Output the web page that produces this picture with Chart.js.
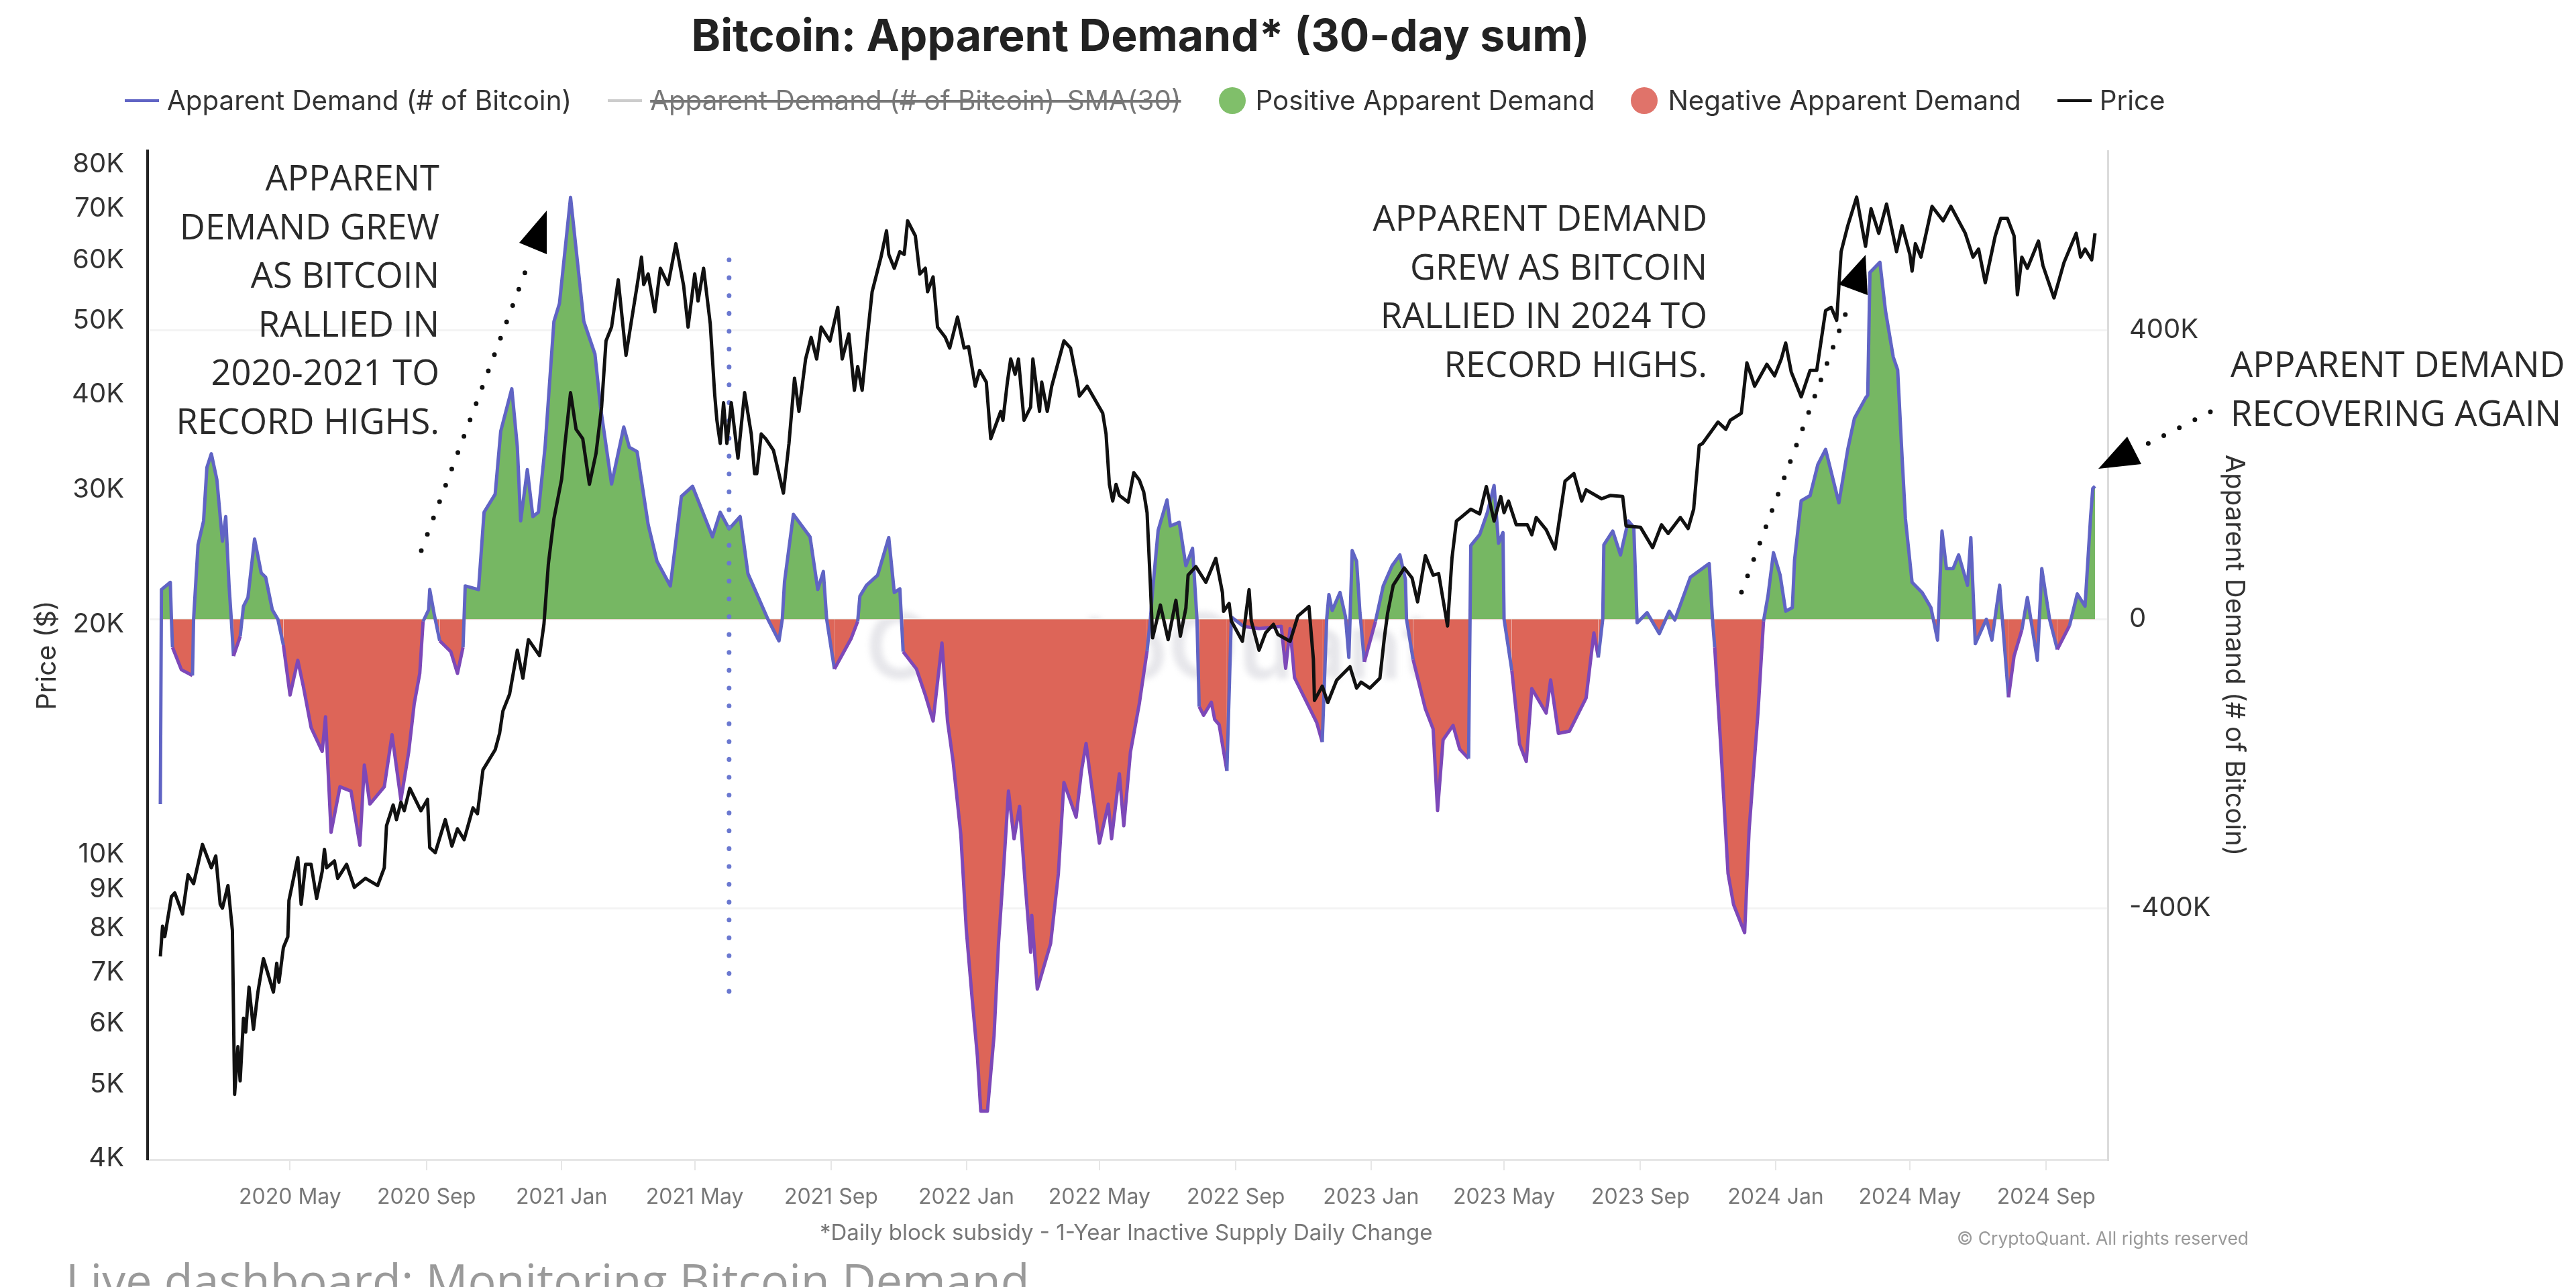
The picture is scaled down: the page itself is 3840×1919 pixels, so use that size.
<!DOCTYPE html>
<html>
<head>
<meta charset="utf-8">
<script src="https://cdn.jsdelivr.net/npm/chart.js@4"></script>
<style>
  html, body { margin: 0; background: #fff; overflow: hidden; }
  #stage { position: relative; width: 3840px; height: 1919px; overflow: hidden; }
  #stage canvas, #stage svg { position: absolute; left: 0; top: 0; }
  .note { position: absolute; font-family: "Open Sans"; font-size: 52.5px; line-height: 72.5px; color: #2a2a2a; white-space: nowrap; }
  .foot { position: absolute; white-space: nowrap; font-family: Inter; }
  #legend { position: absolute; top: 127px; left: 186px; display: flex; align-items: center; font-family: Inter; font-size: 40.3px; color: #333; line-height: 46px; white-space: nowrap; }
  #legend i { display: inline-block; margin-right: 12px; }
  #legend span { margin-right: 54px; display: flex; align-items: center; }
  #legend .ln { width: 51px; height: 4px; }
  #legend .dot { width: 40px; height: 40px; border-radius: 50%; margin-right: 15px; }
  #mark { position: absolute; left: 1290px; top: 880px; font-family: Inter; font-weight: 600; font-size: 136px; color: #c9c9d2; opacity: .45; filter: blur(4px); }
</style>
</head>
<body>
<div id="stage">
  <div id="mark">CryptoQuant</div>
  <canvas id="chart" width="3840" height="1919"></canvas>
  <div id="legend">
    <span><i class="ln" style="background:#6064c4"></i>Apparent Demand (# of Bitcoin)</span>
    <span style="color:#777;margin-right:56px"><i class="ln" style="background:#ccc"></i><s>Apparent Demand (# of Bitcoin)-SMA(30)</s></span>
    <span><i class="dot" style="background:#80bf6a"></i>Positive Apparent Demand</span>
    <span><i class="dot" style="background:#e0736a"></i>Negative Apparent Demand</span>
    <span><i class="ln" style="background:#111"></i>Price</span>
  </div>
  <div class="note" style="right:3185px;top:228px;text-align:right">APPARENT<br>DEMAND GREW<br>AS BITCOIN<br>RALLIED IN<br>2020-2021 TO<br>RECORD HIGHS.</div>
  <div class="note" style="right:1295px;top:288px;text-align:right">APPARENT DEMAND<br>GREW AS BITCOIN<br>RALLIED IN 2024 TO<br>RECORD HIGHS.</div>
  <div class="note" style="left:3325px;top:506px">APPARENT DEMAND<br>RECOVERING AGAIN</div>
  <svg width="3840" height="1919">
    <g stroke="#111" stroke-width="7" stroke-linecap="round" stroke-dasharray="0 26" fill="none">
      <line x1="628" y1="821" x2="785" y2="400"/>
      <line x1="2596" y1="883" x2="2753" y2="463"/>
      <line x1="3295" y1="614" x2="3199" y2="663"/>
    </g>
    <polygon points="815,314 774,362 815,379" fill="#000"/>
    <polygon points="2781,380 2741,424 2784,440" fill="#000"/>
    <polygon points="3171,651 3128,699 3192,692" fill="#000"/>
  </svg>
  <div class="foot" style="left:1222px;top:1817px;font-size:33px;color:#777">*Daily block subsidy - 1-Year Inactive Supply Daily Change</div>
  <div class="foot" style="left:2917px;top:1830px;font-size:26.5px;color:#999">© CryptoQuant. All rights reserved</div>
  <div class="foot" style="left:98px;top:1868px;font-family:'Open Sans';font-size:70px;line-height:80px;color:#9a9a9a">Live dashboard: Monitoring Bitcoin Demand</div>
</div>

<script>
// dias contados desde 2020-01-01, demanda en miles de BTC, precio en miles de USD
const tickDays = [121, 244, 366, 486, 609, 731, 851, 974, 1096, 1216, 1339, 1461, 1582, 1705];
const tickLabels = ['2020 May', '2020 Sep', '2021 Jan', '2021 May', '2021 Sep', '2022 Jan', '2022 May', '2022 Sep', '2023 Jan', '2023 May', '2023 Sep', '2024 Jan', '2024 May', '2024 Sep'];
const priceTicks = [4, 5, 6, 7, 8, 9, 10, 20, 30, 40, 50, 60, 70, 80];
const demandTicks = [-400, 0, 400];

const demandDays = [
  4, 5, 13, 14, 15, 23, 33, 34, 38, 43, 46, 50, 55, 60, 63, 66, 68, 70, 76, 79,
  83, 89, 95, 99, 105, 110, 115, 121, 128, 133, 140, 150, 153, 158, 166, 176, 184, 188, 193, 206,
  213, 221, 228, 233, 238, 241, 246, 247, 251, 256, 266, 272, 277, 279, 291, 296, 306, 311, 321, 326,
  329, 335, 340, 345, 351, 359, 364, 374, 386, 396, 401, 411, 422, 427, 434, 444, 452, 464, 474, 484,
  502, 509, 517, 527, 534, 552, 562, 565, 567, 575, 590, 597, 602, 605, 612, 627, 633, 635, 641, 651,
  661, 666, 671, 674, 686, 694, 701, 709, 714, 719, 726, 731, 736, 741, 744, 750, 756, 760, 764, 769,
  774, 779, 784, 789, 790, 795, 807, 814, 819, 830, 835, 839, 842, 851, 859, 862, 869, 873, 879, 887,
  891, 894, 897, 899, 904, 912, 915, 923, 929, 935, 939, 941, 945, 952, 955, 959, 966, 970, 981, 995,
  1015, 1019, 1023, 1027, 1037, 1047, 1052, 1056, 1058, 1061, 1068, 1073, 1076, 1079, 1083, 1086, 1090, 1100, 1107, 1115,
  1122, 1127, 1128, 1134, 1145, 1152, 1156, 1161, 1170, 1176, 1184, 1186, 1194, 1201, 1207, 1211, 1215, 1216, 1223, 1230,
  1236, 1241, 1254, 1258, 1265, 1275, 1290, 1297, 1301, 1305, 1306, 1314, 1321, 1328, 1333, 1336, 1345, 1356, 1365, 1370,
  1384, 1401, 1404, 1406, 1412, 1418, 1423, 1433, 1437, 1445, 1450, 1454, 1459, 1465, 1470, 1476, 1478, 1484, 1492, 1499,
  1506, 1518, 1526, 1532, 1542, 1544, 1546, 1555, 1560, 1567, 1571, 1575, 1578, 1584, 1593, 1601, 1607, 1611, 1615, 1621,
  1626, 1634, 1637, 1641, 1651, 1656, 1663, 1671, 1676, 1683, 1688, 1697, 1701, 1708, 1715, 1726, 1733, 1740, 1745, 1747,
  1749
];
const demandValues = [
  -256, 41, 51, 0, -39, -70, -78, 0, 103, 136, 210, 229, 193, 108, 142, 46, 0, -51, -24, 18,
  30, 111, 64, 58, 13, 0, -36, -105, -57, -93, -150, -183, -135, -295, -232, -238, -313, -202, -256, -232,
  -160, -250, -184, -117, -75, -3, 13, 41, 7, -30, -45, -75, -39, 46, 41, 148, 173, 260, 319, 238,
  136, 207, 142, 148, 238, 412, 437, 584, 412, 367, 294, 187, 266, 238, 232, 131, 80, 46, 170, 184,
  114, 148, 125, 142, 63, 0, -30, 0, 52, 145, 114, 41, 66, 0, -69, -27, -3, 32, 47, 61,
  113, 37, 42, -45, -69, -105, -141, -33, -141, -196, -298, -431, -521, -606, -681, -681, -576, -449, -359, -238,
  -304, -259, -365, -461, -410, -512, -449, -352, -226, -274, -208, -172, -208, -310, -256, -304, -214, -286, -184, -117,
  -75, -44, 0, 40, 123, 165, 129, 134, 74, 98, 0, -121, -133, -115, -139, -146, -210, 3, -10, -13,
  -10, -68, -13, -81, -112, -143, -170, 0, 34, 12, 37, 3, -53, 95, 80, 9, -59, -3, 46, 74,
  89, 55, 0, -56, -124, -152, -265, -167, -147, -180, -193, 102, 117, 148, 185, 105, 120, 0, -71, -173,
  -197, -96, -130, -84, -158, -155, -109, -19, -53, 0, 103, 122, 89, 136, 127, -5, 9, -20, 11, -1,
  58, 77, 0, -39, -190, -352, -395, -434, -292, -130, -3, 32, 92, 61, 11, 16, 82, 164, 171, 214,
  235, 161, 235, 278, 306, 310, 480, 494, 427, 363, 345, 224, 139, 51, 37, 16, -29, 122, 70, 70,
  89, 47, 113, -34, 0, -29, 47, -108, -51, -15, 30, -57, 70, 0, -42, -9, 35, 18, 141, 181,
  184
];

const priceDays = [
  4, 6, 8, 14, 17, 24, 29, 34, 42, 50, 54, 58, 60, 65, 69, 71, 74, 76, 79, 81,
  84, 88, 92, 97, 106, 109, 111, 115, 119, 120, 128, 131, 135, 140, 145, 150, 152, 154, 161, 164,
  172, 179, 189, 200, 206, 208, 214, 217, 221, 224, 229, 239, 245, 247, 252, 261, 267, 272, 278, 286,
  290, 295, 306, 310, 313, 319, 326, 331, 336, 346, 350, 354, 359, 366, 369, 374, 379, 385, 391, 397,
  402, 406, 411, 417, 424, 429, 434, 438, 440, 444, 450, 455, 462, 469, 476, 480, 486, 489, 494, 500,
  504, 506, 509, 512, 515, 519, 525, 531, 537, 540, 542, 546, 550, 557, 566, 571, 576, 580, 586, 591,
  596, 600, 608, 615, 619, 625, 630, 633, 637, 642, 646, 654, 659, 661, 666, 671, 675, 678, 685, 689,
  694, 696, 701, 705, 712, 716, 723, 729, 733, 739, 743, 749, 753, 762, 764, 768, 771, 775, 778, 783,
  789, 791, 797, 799, 804, 808, 819, 825, 831, 833, 840, 854, 857, 860, 863, 866, 869, 877, 882, 887,
  891, 894, 897, 899, 906, 913, 920, 924, 929, 931, 938, 947, 956, 962, 963, 968, 970, 980, 986, 988,
  995, 1001, 1008, 1012, 1023, 1030, 1040, 1044, 1045, 1052, 1057, 1065, 1077, 1083, 1087, 1095, 1104, 1108, 1111, 1116,
  1126, 1133, 1138, 1145, 1152, 1157, 1165, 1169, 1173, 1177, 1186, 1194, 1200, 1207, 1213, 1216, 1220, 1227, 1237, 1241,
  1245, 1254, 1262, 1266, 1271, 1279, 1286, 1290, 1304, 1312, 1323, 1326, 1339, 1350, 1358, 1364, 1375, 1382, 1387, 1392,
  1395, 1409, 1416, 1420, 1430, 1435, 1442, 1453, 1460, 1466, 1470, 1475, 1484, 1492, 1498, 1506, 1511, 1516, 1520, 1526,
  1534, 1542, 1547, 1554, 1561, 1570, 1575, 1582, 1584, 1587, 1592, 1602, 1612, 1619, 1632, 1639, 1644, 1650, 1659, 1664,
  1670, 1676, 1679, 1683, 1688, 1698, 1702, 1712, 1721, 1732, 1736, 1740, 1746, 1749
];
const priceValues = [
  7.35, 8.05, 7.8, 8.8, 8.9, 8.35, 9.4, 9.15, 10.3, 9.6, 9.95, 8.6, 8.5, 9.1, 7.95, 4.85, 5.6, 5.05, 6.1, 5.85,
  6.7, 5.9, 6.6, 7.3, 6.6, 7.2, 6.8, 7.55, 7.8, 8.7, 9.9, 8.6, 9.7, 9.7, 8.75, 9.5, 10.15, 9.6, 9.8, 9.3,
  9.7, 9.05, 9.3, 9.1, 9.6, 10.9, 11.6, 11.1, 11.7, 11.4, 12.2, 11.4, 11.8, 10.2, 10.05, 11.1, 10.25, 10.8, 10.45, 11.5,
  11.3, 12.9, 13.7, 14.4, 15.4, 16.2, 18.5, 17, 19.1, 18.2, 20, 24, 27.5, 31, 34.5, 40.2, 36, 35, 30.5, 33.5,
  38.5, 47, 49, 56.5, 45, 50, 55.5, 60.5, 55.7, 57.5, 51.3, 58.5, 55.7, 63, 55.5, 49, 57.5, 53, 58.5, 49.5,
  40, 37, 34.5, 39, 34.5, 39, 33, 40.2, 35.5, 31.5, 31.5, 35.5, 35, 33.8, 29.7, 34.5, 42, 38, 44.5, 47.5,
  44.5, 49, 47, 52, 44.5, 48, 40.5, 43.5, 40.5, 48, 54.5, 60.5, 65.5, 61, 58.5, 61.5, 61, 67.5, 64.5, 57.5,
  58.5, 54.5, 57, 49, 47.5, 46, 50.5, 46, 46.2, 41, 43, 41.5, 35, 38, 37, 41.5, 44.5, 42.5, 44.5, 37,
  38.5, 44.5, 38, 41.5, 38, 41, 47, 46, 41.5, 39.8, 41, 37.8, 35.5, 30.5, 29, 30.5, 29.5, 28.9, 31.6, 30.9,
  29.8, 28, 22.5, 19.2, 21.2, 19.1, 21.5, 19.3, 21, 23.2, 23.8, 22.7, 24.4, 22, 20.8, 21.3, 20.2, 19, 22.2, 20.2,
  18.5, 19.5, 20, 19.4, 19, 20.5, 21.1, 18, 15.9, 16.6, 15.8, 16.9, 17.6, 16.5, 16.8, 16.5, 17, 19.2, 20.7, 22.5,
  23.7, 23, 21.4, 24.6, 23.2, 23.3, 19.9, 24.4, 27.3, 27.6, 28.3, 27.9, 30.3, 27.3, 29.4, 28, 29, 27, 27, 26.2,
  27.6, 26.6, 25.1, 27.5, 30.8, 31.5, 29, 30, 29.2, 29.5, 29.4, 26.9, 26.8, 25.2, 27, 26.3, 27.6, 26.7, 28.3, 34.3,
  34.5, 36.8, 36, 37, 37.8, 44, 41, 43.8, 42.3, 44.5, 46.7, 42.8, 39.7, 43, 43, 51.5, 52, 50, 61.5, 66.5,
  72.5, 62.5, 70, 65, 71, 61.5, 66.5, 61, 58, 63, 60.5, 70.5, 67.5, 70.5, 65, 60.5, 62, 56, 64.5, 68,
  68, 64.5, 54, 60.5, 58.5, 63.5, 59, 53.5, 59.5, 65, 60.5, 62, 60, 65
];

const markerDays = [517, 517];
const markerPrices = [60, 6.35];

const toPoints = (xs, ys) => xs.map((x, i) => ({ x, y: ys[i] }));

function pinTicks(values) {
  return (scale) => { scale.ticks = values.map((value) => ({ value })); };
}

const tickFont = { family: 'Inter', size: 40 };
const axisTitleFont = { family: 'Inter', size: 40 };

new Chart(document.getElementById('chart').getContext('2d'), {
  type: 'line',
  data: {
    datasets: [
      {
        label: 'Apparent Demand (# of Bitcoin)',
        yAxisID: 'demand',
        data: toPoints(demandDays, demandValues),
        borderColor: '#6064c4',
        borderWidth: 5,
        borderJoinStyle: 'round',
        pointRadius: 0,
        fill: { target: { value: 0 }, above: '#76b763', below: '#dd6558' },
        segment: { borderColor: (ctx) => (ctx.p0.parsed.y < 0 && ctx.p1.parsed.y < 0 ? '#7d48b8' : '#6064c4') },
        order: 3
      },
      {
        label: 'Marker',
        yAxisID: 'price',
        data: toPoints(markerDays, markerPrices),
        borderColor: '#6a78d0',
        borderWidth: 7,
        borderDash: [0.1, 26.5],
        borderCapStyle: 'round',
        pointRadius: 0,
        order: 2
      },
      {
        label: 'Price',
        yAxisID: 'price',
        data: toPoints(priceDays, priceValues),
        borderColor: '#111',
        borderWidth: 5,
        borderJoinStyle: 'round',
        pointRadius: 0,
        order: 1
      }
    ]
  },
  options: {
    responsive: false,
    devicePixelRatio: 1,
    animation: false,
    layout: { padding: { right: 440 } },
    plugins: {
      legend: { display: false },
      tooltip: { enabled: false },
      title: {
        display: true,
        text: 'Bitcoin: Apparent Demand* (30-day sum)',
        color: '#222',
        font: { family: 'Inter', size: 66, weight: '700' },
        padding: { top: 17, bottom: 129 }
      }
    },
    scales: {
      x: {
        type: 'linear',
        min: -7.5,
        max: 1760.5,
        afterBuildTicks: pinTicks(tickDays),
        afterFit: (scale) => { scale.height = 190; },
        border: { color: '#e6e6e6', width: 3 },
        grid: { drawOnChartArea: false, color: '#e6e6e6', lineWidth: 2, tickLength: 16 },
        ticks: {
          autoSkip: false,
          maxRotation: 0,
          padding: 21,
          color: '#777',
          font: { family: 'Inter', size: 32 },
          callback: (v) => tickLabels[tickDays.indexOf(v)]
        }
      },
      price: {
        type: 'logarithmic',
        position: 'left',
        min: 3.984,
        max: 83.3,
        afterBuildTicks: pinTicks(priceTicks),
        afterFit: (scale) => { scale.width = 220; },
        border: { color: '#222', width: 4 },
        grid: { display: false },
        title: { display: true, text: 'Price ($)', color: '#333', font: axisTitleFont, padding: { top: 47, bottom: 0 } },
        ticks: { autoSkip: false, padding: 27, color: '#333', font: tickFont, callback: (v) => v + 'K' }
      },
      demand: {
        type: 'linear',
        position: 'right',
        min: -748,
        max: 648,
        afterBuildTicks: pinTicks(demandTicks),
        afterFit: (scale) => { scale.width = 258; },
        border: { color: '#dcdcdc', width: 3 },
        grid: { color: '#f3f3f3', lineWidth: 3, drawTicks: false },
        title: { display: true, text: 'Apparent Demand (# of Bitcoin)', color: '#333', font: axisTitleFont, padding: { top: 46, bottom: 0 } },
        ticks: { autoSkip: false, padding: 32, color: '#333', font: tickFont, callback: (v) => (v === 0 ? '0' : v + 'K') }
      }
    }
  }
});
</script>
</body>
</html>
